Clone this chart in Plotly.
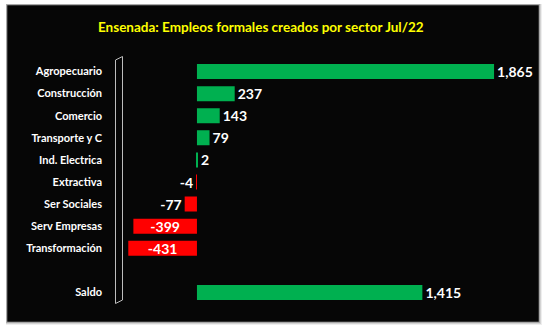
import plotly.graph_objects as go

# Formal jobs created in Ensenada by economic sector, July 2022
sectors = ["Agropecuario", "Construcción", "Comercio", "Transporte y C",
           "Ind. Electrica", "Extractiva", "Ser Sociales", "Serv Empresas",
           "Transformación", " ", "Saldo"]
jobs = [1865, 237, 143, 79, 2, -4, -77, -399, -431, None, 1415]

W, H = 546, 333
GREEN = "#00B050"
RED = "#FF0000"

def px_x(p):
    return p / W

def px_y(p):
    return 1 - p / H

colors = [GREEN if (v is not None and v >= 0) else RED for v in jobs]
labels = ["" if v is None else f"{v:,}" for v in jobs]
positions = ["inside" if (v is not None and v < -200) else "outside" for v in jobs]

# plot area in pixels
L, R, T, B = 120, 535, 60.5, 303.5

fig = go.Figure(go.Bar(
    y=sectors, x=jobs, orientation="h",
    marker=dict(color=colors, line=dict(width=0)),
    width=0.68,
    text=labels, textposition=positions,
    insidetextanchor="middle",
    constraintext="none",
    cliponaxis=False,
    textfont=dict(family="Lato", size=14, color="white", weight="bold"),
    hoverinfo="skip",
))

shapes = []
# soft grey shadow around the dark panel
for i, op in enumerate([0.10, 0.18, 0.30]):
    d = 3 - i
    shapes.append(dict(type="rect", xref="paper", yref="paper", layer="below",
                       x0=px_x(7 - 1), x1=px_x(539 + d), y0=px_y(5 - 1), y1=px_y(322 + d),
                       fillcolor=f"rgba(90,90,90,{op})", line=dict(width=0)))
# dark panel
shapes.append(dict(type="rect", xref="paper", yref="paper", layer="below",
                   x0=px_x(7), x1=px_x(539), y0=px_y(5), y1=px_y(322),
                   fillcolor="#060606", line=dict(color="#9a9a9a", width=0.6)))
# thin 3-D back wall at the category axis
shapes.append(dict(type="path", xref="paper", yref="paper", layer="above",
                   path=(f"M {px_x(115.5)} {px_y(60)} L {px_x(122.5)} {px_y(56.5)} "
                         f"L {px_x(122.5)} {px_y(300)} L {px_x(115.5)} {px_y(303.5)} Z"),
                   fillcolor="#060606", line=dict(color="#bdbdbd", width=1)))

fig.update_layout(
    width=W, height=H,
    margin=dict(l=0, r=0, t=0, b=0),
    paper_bgcolor="white",
    plot_bgcolor="rgba(0,0,0,0)",
    showlegend=False,
    shapes=shapes,
    annotations=[dict(
        text="<b>Ensenada: Empleos formales creados por sector Jul/22</b>",
        xref="paper", yref="paper", x=px_x(261), y=px_y(27),
        xanchor="center", yanchor="middle", showarrow=False,
        font=dict(family="Lato", size=13.5, color="#FFFF00"),
    )],
    xaxis=dict(domain=[px_x(L), px_x(R)], range=[-483, 2122],
               visible=False, fixedrange=True),
    yaxis=dict(domain=[px_y(B), px_y(T)], type="category",
               categoryorder="array", categoryarray=sectors,
               autorange="reversed", showgrid=False, zeroline=False,
               showline=False, ticks="", ticklabelstandoff=17,
               tickfont=dict(family="Lato", size=11, color="white", weight="bold"),
               fixedrange=True),
)

fig.write_html("out.html")
